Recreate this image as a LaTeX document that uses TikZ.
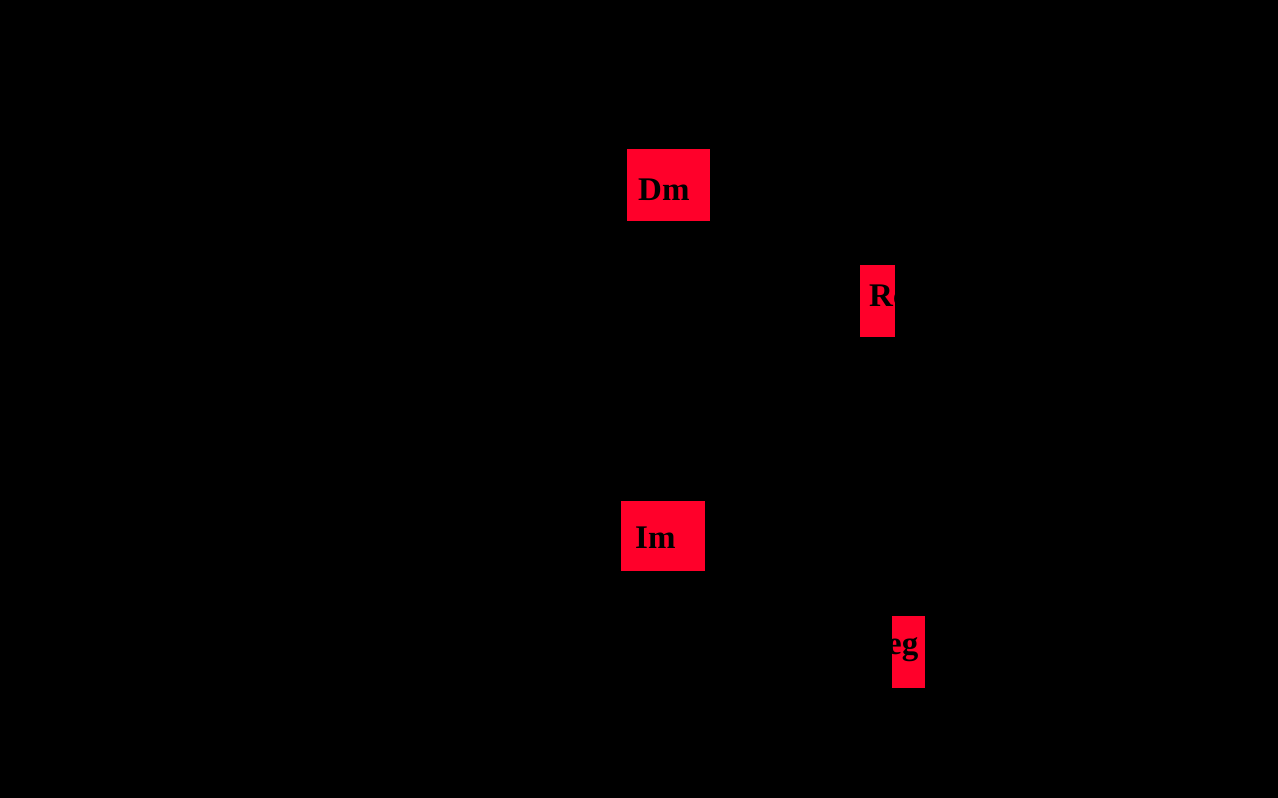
\documentclass[tikz,border=0pt]{standalone}
\usepackage{fontspec}
\setmainfont{Liberation Serif}
\definecolor{boxred}{RGB}{255,0,42}
\tikzset{
  redbox/.style={fill=boxred, draw=none},
  lbl/.style={anchor=base west, inner sep=0pt, text=black, font=\fontsize{33}{36}\selectfont\bfseries}
}
\begin{document}
\begin{tikzpicture}[x=1pt,y=-1pt]
\fill[black] (0,0) rectangle (1278,798);
\useasboundingbox (0,0) rectangle (1278,798);
% box Dm
\fill[redbox] (627,149) rectangle (710,221);
\begin{scope}
\clip (627,149) rectangle (710,221);
\node[lbl] (dm) at (638,200) {Dm};
\end{scope}
% box R
\fill[redbox] (860,265) rectangle (895,337);
\begin{scope}
\clip (860,265) rectangle (895,337);
\node[lbl] (rc) at (869,306) {Rc};
\end{scope}
% box Im
\fill[redbox] (621,501) rectangle (705,571);
\begin{scope}
\clip (621,501) rectangle (705,571);
\node[lbl] (im) at (635,548) {Im};
\end{scope}
% box eg
\fill[redbox] (892,616) rectangle (925,688);
\begin{scope}
\clip (892,616) rectangle (925,688);
\node[lbl] (eg) at (887,654) {eg};
\end{scope}
\end{tikzpicture}
\end{document}
